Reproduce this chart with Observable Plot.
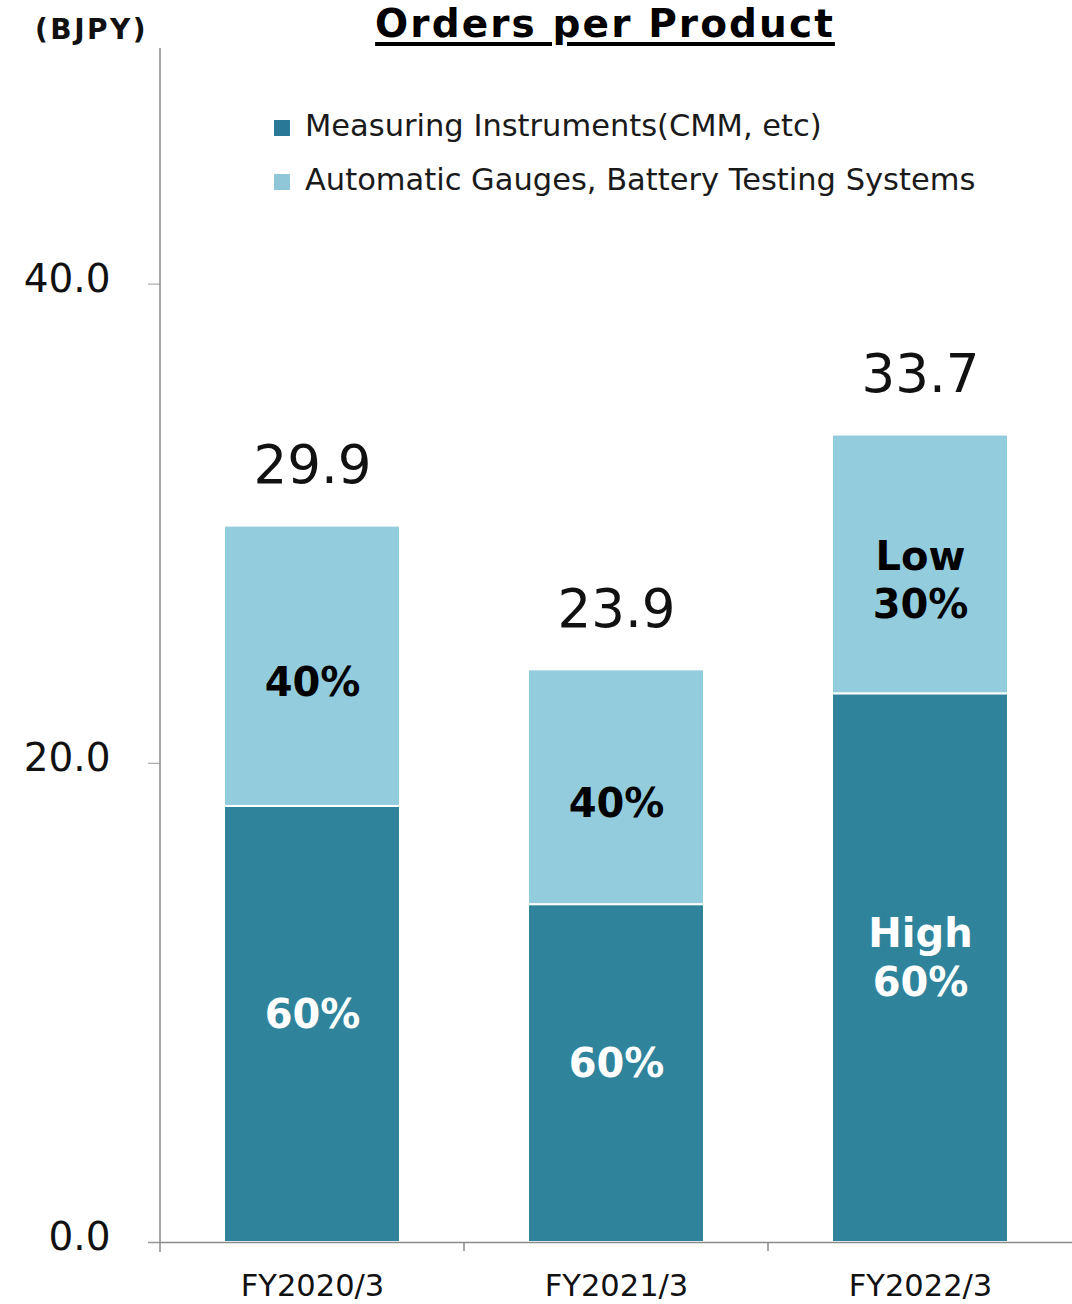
<!DOCTYPE html>
<html>
<head>
<meta charset="utf-8">
<script src="https://cdn.jsdelivr.net/npm/d3@7"></script>
<script src="https://cdn.jsdelivr.net/npm/@observablehq/plot@0.6"></script>
<style>
  body { margin: 0; background: #fff; font-family: "DejaVu Sans", sans-serif; }
  #wrap { position: relative; width: 1072px; height: 1304px; overflow: hidden; }
  #chart { position: absolute; left: 0; top: 0; }
  .title {
    position: absolute; top: 4px; left: 605px; transform: translateX(-50%);
    font-size: 39px; font-weight: bold; letter-spacing: 2.1px; line-height: 1.05;
    white-space: nowrap; color: #000;
    text-decoration: underline; text-decoration-thickness: 4px; text-underline-offset: 5px;
  }
  .unit {
    position: absolute; top: 16px; left: 35px;
    font-size: 28px; font-weight: bold; letter-spacing: 2.5px; line-height: 1; color: #111;
  }
  .legend { position: absolute; left: 274px; top: 0; }
  .legend .item { position: absolute; left: 0; white-space: nowrap; }
  .legend .sw { position: absolute; left: 0; width: 16px; height: 16px; }
  .legend .lbl { position: absolute; left: 31px; font-size: 30.5px; line-height: 1; color: #1a1a1a; }
</style>
</head>
<body>
<div id="wrap">
  <div id="chart"></div>
  <div class="title">Orders per Product</div>
  <div class="unit">(BJPY)</div>
  <div class="legend" id="legend"></div>
</div>
<script>
// Orders by fiscal year, billions of JPY
const years = ["FY2020/3", "FY2021/3", "FY2022/3"];
const totals = [29.9, 23.9, 33.7];
const measuring = [18.2, 14.1, 22.9];
const automatic = [11.7, 9.8, 10.8];
const measuringShare = ["60%", "60%", "High\n60%"];
const automaticShare = ["40%", "40%", "Low\n30%"];
const series = ["Measuring Instruments(CMM, etc)", "Automatic Gauges, Battery Testing Systems"];
const seriesColors = ["#2f849c", "#93cddd"];
const swatchColors = ["#2a7898", "#8fc7d8"];
const yTicks = [0, 20, 40];

// one row per stacked segment
const rows = years.flatMap((year, i) => [
  { year, series: series[0], lo: 0, hi: measuring[i], label: measuringShare[i] },
  { year, series: series[1], lo: measuring[i], hi: measuring[i] + automatic[i], label: automaticShare[i] }
]);
const totalRows = years.map((year, i) => ({ year, total: totals[i] }));

const font = "DejaVu Sans";
const chart = Plot.plot({
  width: 1072,
  height: 1304,
  marginLeft: 160,
  marginRight: 0,
  marginTop: 44,
  marginBottom: 62,
  style: { fontFamily: font, background: "transparent", overflow: "visible" },
  x: { domain: years, paddingInner: 0.42, paddingOuter: 0.21, label: null },
  y: { domain: [0, 50], label: null },
  color: { domain: series, range: seriesColors },
  marks: [
    Plot.barY(rows, { x: "year", y1: "lo", y2: "hi", fill: "series", stroke: "white", strokeWidth: 2 }),
    Plot.ruleY([0], { stroke: "#8a8a8a", strokeWidth: 1.5, insetLeft: -12 }),
    // y tick marks
    Plot.axisY({ ticks: yTicks, tickSize: 12, tickFormat: () => "", stroke: "#9a9a9a", label: null }),
    // y tick labels
    Plot.axisY({ ticks: yTicks, tickSize: 0, tickPadding: 50, tickFormat: d3.format(".1f"),
                 fontSize: 39, fill: "#111", dy: -5, label: null }),
    // category labels
    Plot.axisX({ tickSize: 0, tickPadding: 32, fontSize: 30.5, fill: "#111", label: null }),
    // totals above each bar
    Plot.text(totalRows, { x: "year", y: "total", text: d => d3.format(".1f")(d.total),
                           fontSize: 53, fill: "#111", lineAnchor: "bottom", dy: -43 }),
    // shares inside segments
    Plot.text(rows.filter(d => d.series === series[0]), {
      x: "year", y: d => (d.lo + d.hi) / 2, text: "label",
      fill: "white", fontWeight: "bold", fontSize: 40, lineHeight: 1.22, dy: -12
    }),
    Plot.text(rows.filter(d => d.series === series[1]), {
      x: "year", y: d => (d.lo + d.hi) / 2, text: "label",
      fill: "#000", fontWeight: "bold", fontSize: 40, lineHeight: 1.22, dy: 14
    })
  ]
});

// vertical axis line and category boundary ticks, placed from the chart's scales
const sx = chart.scale("x");
const sy = chart.scale("y");
const y0 = sy.apply(0);
const yTop = sy.apply(sy.domain[1]);
const step = sx.step ?? (sx.apply(years[1]) - sx.apply(years[0]));
const bw = sx.bandwidth ?? 0;
const g = d3.select(chart).append("g").attr("stroke", "#8a8a8a").attr("stroke-width", 1.5);
g.append("line")
  .attr("x1", sx.range[0]).attr("x2", sx.range[0])
  .attr("y1", yTop + 4).attr("y2", y0 + 10);
g.selectAll("line.bound").data(years.slice(1)).join("line")
  .attr("class", "bound")
  .attr("x1", d => sx.apply(d) + bw / 2 - step / 2)
  .attr("x2", d => sx.apply(d) + bw / 2 - step / 2)
  .attr("y1", y0).attr("y2", y0 + 9);

document.getElementById("chart").append(chart);

// legend
const legend = d3.select("#legend");
const legendTops = [0, 54];
series.forEach((name, i) => {
  const item = legend.append("div").attr("class", "item").style("top", (111 + legendTops[i]) + "px");
  item.append("div").attr("class", "sw").style("top", "9px").style("background", swatchColors[i]);
  item.append("div").attr("class", "lbl").style("top", "0px").text(name);
});
</script>
</body>
</html>
